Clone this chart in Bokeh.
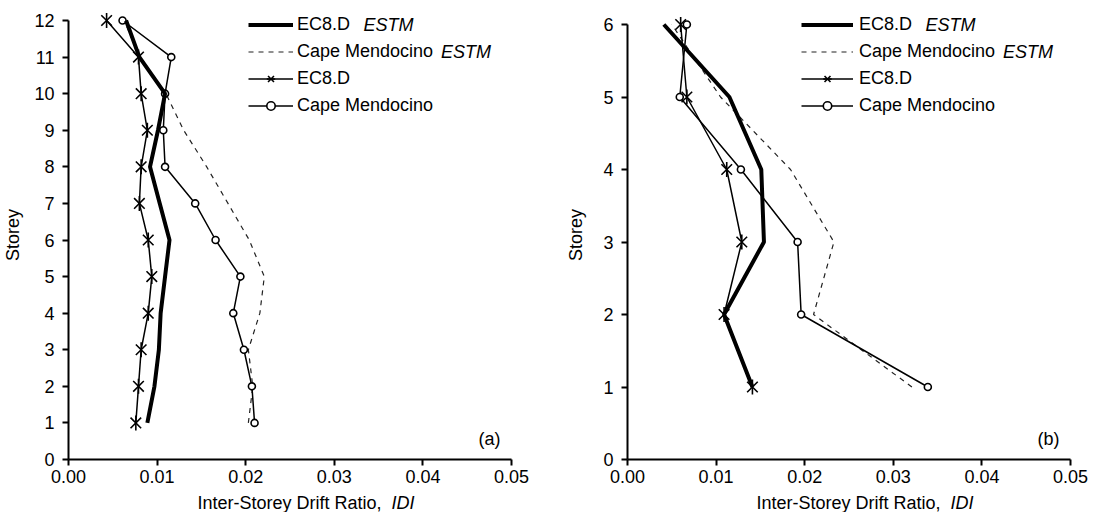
import math
from bokeh.plotting import figure
from bokeh.models import (Range1d, FixedTicker, PrintfTickFormatter, Legend,
                          LegendItem, Label, ColumnDataSource)
from bokeh.layouts import row, column
from bokeh.embed import file_html
from bokeh.resources import INLINE

FONT = "Liberation Sans"
FS = "18px"

# ---------------- data ----------------
storeys_a = [1, 2, 3, 4, 5, 6, 7, 8, 9, 10, 11, 12]
ec8_estm_a = [0.0089, 0.0097, 0.0102, 0.0104, 0.0109, 0.0114, 0.0103, 0.0092, 0.0101, 0.0109, 0.0080, 0.0065]
cape_estm_a = [0.0203, 0.0208, 0.0203, 0.0216, 0.0221, 0.0204, 0.0180, 0.0156, 0.0130, 0.0110, 0.0080, 0.0063]
ec8_a = [0.0076, 0.0079, 0.0082, 0.0090, 0.0094, 0.0090, 0.0080, 0.0082, 0.0089, 0.0082, 0.0079, 0.0043]
cape_a = [0.0210, 0.0207, 0.0198, 0.0186, 0.0194, 0.0166, 0.0143, 0.0109, 0.0107, 0.0109, 0.0116, 0.0061]

storeys_b = [1, 2, 3, 4, 5, 6]
ec8_estm_b = [0.0141, 0.0109, 0.0154, 0.0151, 0.0115, 0.0041]
cape_estm_b = [0.0321, 0.0210, 0.0233, 0.0184, 0.0105, 0.0050]
ec8_b = [0.0141, 0.0109, 0.0129, 0.0112, 0.0067, 0.0060]
cape_b = [0.0339, 0.0196, 0.0192, 0.0128, 0.0059, 0.0067]

x_ticks = [0.0, 0.01, 0.02, 0.03, 0.04, 0.05]
x_label_main = "Inter-Storey Drift Ratio, "
x_label_ital = "IDI"
y_label = "Storey"
names = ["EC8.D", "Cape Mendocino", "EC8.D", "Cape Mendocino"]
ital = "ESTM"

FRAME_W = 443
FRAME_H = 449
TOP = 10
BOTTOM = 32
TOTAL_H = 512


def panel(storeys, ymax, ytop, ec8_estm, cape_estm, ec8, cape, tag,
          left, right, title_standoff, leg_x, glyph_w, leg_standoff):
    p = figure(frame_width=FRAME_W, frame_height=FRAME_H,
               x_range=Range1d(0, 0.05), y_range=Range1d(0, ytop),
               output_backend="svg", toolbar_location=None,
               min_border_left=left, min_border_right=right,
               min_border_top=TOP, min_border_bottom=BOTTOM,
               background_fill_color="white", border_fill_color="white")
    p.outline_line_color = None
    p.xgrid.grid_line_color = None
    p.ygrid.grid_line_color = None

    p.xaxis.ticker = FixedTicker(ticks=x_ticks)
    p.xaxis.formatter = PrintfTickFormatter(format="%.2f")
    p.yaxis.ticker = FixedTicker(ticks=list(range(0, ymax + 1)))
    p.yaxis.bounds = (0, ymax)
    for ax in (p.xaxis[0], p.yaxis[0]):
        ax.axis_line_width = 2
        ax.axis_line_color = "black"
        ax.major_tick_line_width = 2
        ax.major_tick_line_color = "black"
        ax.major_tick_out = 6
        ax.major_tick_in = 0
        ax.minor_tick_line_color = None
        ax.major_label_text_font = FONT
        ax.major_label_text_font_size = FS
        ax.major_label_text_color = "black"
        ax.axis_label_text_font = FONT
        ax.axis_label_text_font_size = FS
        ax.axis_label_text_font_style = "normal"
        ax.axis_label_text_color = "black"
    p.xaxis.major_label_standoff = 4
    p.yaxis.major_label_standoff = 8
    p.yaxis.axis_label = y_label
    p.yaxis.axis_label_standoff = title_standoff

    src = ColumnDataSource(dict(y=storeys, ee=ec8_estm, ce=cape_estm, e=ec8, c=cape))

    r_ce = p.line("ce", "y", source=src, line_color="#222222", line_width=1.2,
                  line_dash="5 5")
    r_e = p.line("e", "y", source=src, line_color="black", line_width=1.5)
    r_ex = p.scatter("e", "y", source=src, marker="x", size=15,
                     line_color="black", line_width=1.6)
    r_ed = p.scatter("e", "y", source=src, marker="dash", angle=math.pi / 2,
                     size=15, line_color="black", line_width=1.6)
    r_c = p.line("c", "y", source=src, line_color="black", line_width=1.5)
    r_cc = p.scatter("c", "y", source=src, marker="circle", size=7,
                     fill_color="white", line_color="black", line_width=1.6)
    r_ee = p.line("ee", "y", source=src, line_color="black", line_width=4)

    gh = 21
    sp = 6
    leg_h = 4 * gh + 3 * sp
    leg_top = FRAME_H - 4          # legend top, px above frame bottom
    legend = Legend(items=[
        LegendItem(label=names[0], renderers=[r_ee]),
        LegendItem(label=names[1], renderers=[r_ce]),
        LegendItem(label=names[2], renderers=[r_e, r_ex, r_ed]),
        LegendItem(label=names[3], renderers=[r_c, r_cc]),
    ], location=(leg_x, leg_top - leg_h), glyph_width=glyph_w, glyph_height=gh,
        label_height=gh, label_standoff=leg_standoff, spacing=sp, padding=0,
        margin=0, border_line_color=None, background_fill_alpha=0,
        label_text_font=FONT, label_text_font_size=FS,
        label_text_color="black")
    p.add_layout(legend)

    tx = leg_x + glyph_w + leg_standoff
    for i, dx in ((0, 66.0), (1, 143.5)):
        yy = leg_top - gh / 2 - i * (gh + sp)
        p.add_layout(Label(x=tx + dx, y=yy, x_units="screen", y_units="screen",
                           text=ital, text_font=FONT, text_font_size=FS,
                           text_font_style="italic", text_baseline="middle",
                           text_align="left", text_color="black"))

    p.add_layout(Label(x=432, y=21, x_units="screen", y_units="screen",
                       text=tag, text_font=FONT, text_font_size=FS,
                       text_baseline="middle", text_align="right",
                       text_color="black"))

    th = TOTAL_H - (TOP + FRAME_H + BOTTOM)
    t = figure(width=left + FRAME_W + right, height=th,
               x_range=Range1d(0, 1), y_range=Range1d(0, 1),
               output_backend="svg", toolbar_location=None, min_border=0,
               background_fill_color="white", border_fill_color="white")
    t.axis.visible = False
    t.grid.grid_line_color = None
    t.outline_line_color = None
    # frame of t is aligned with the frame of p (column alignment)
    t.add_layout(Label(x=129, y=th - 11, x_units="screen", y_units="screen",
                       text=x_label_main, text_font=FONT, text_font_size=FS,
                       text_baseline="middle", text_align="left",
                       text_color="black"))
    t.add_layout(Label(x=323, y=th - 11, x_units="screen", y_units="screen",
                       text=x_label_ital, text_font=FONT, text_font_size=FS,
                       text_font_style="italic", text_baseline="middle",
                       text_align="left", text_color="black"))
    return column(p, t)


pa = panel(storeys_a, 12, 12 + 10 / 36.58, ec8_estm_a, cape_estm_a, ec8_a, cape_a,
           "(a)", 68, 50, 8, 180, 45, 4)
pb = panel(storeys_b, 6, 6 + 14 / 72.5, ec8_estm_b, cape_estm_b, ec8_b, cape_b,
           "(b)", 66, 18, 14, 174, 52, 6)

layout = row(pa, pb)
open("out.html", "w").write(file_html(layout, INLINE))
